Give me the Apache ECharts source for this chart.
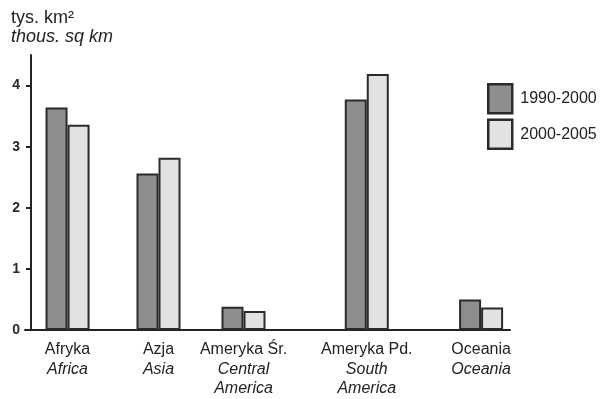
<!DOCTYPE html>
<html>
<head>
<meta charset="utf-8">
<script src="https://cdn.jsdelivr.net/npm/echarts@6/dist/echarts.min.js"></script>
<style>html,body{margin:0;padding:0;background:#fff;}#c{width:601px;height:399px;}</style>
</head>
<body>
<div id="c"></div>
<script>
// ---- data ----
const categoriesPL = ['Afryka', 'Azja', 'Ameryka Śr.', 'Ameryka Pd.', 'Oceania'];
const categoriesEN = ['Africa', 'Asia', 'Central\nAmerica', 'South\nAmerica', 'Oceania'];
const categoryX = [0.86, 3, 5, 7.9, 10.59];
const seriesNames = ['1990-2000', '2000-2005'];
const values1990 = [3.64, 2.56, 0.38, 3.77, 0.50];
const values2000 = [3.36, 2.82, 0.31, 4.19, 0.37];
const yTicks = [0, 1, 2, 3, 4];
const titleLines = ['tys. km²', 'thous. sq km'];

const FONT = '"Liberation Sans", Arial, sans-serif';
const chart = echarts.init(document.getElementById('c'), null, {renderer: 'canvas'});

function labelFor(v) {
  let idx = -1;
  categoryX.forEach((x, i) => { if (Math.abs(x - v) < 1e-6) idx = i; });
  if (idx < 0) return '';
  const en = categoriesEN[idx].split('\n').map(s => '{i|' + s + '}').join('\n');
  return '{n|' + categoriesPL[idx] + '}\n' + en;
}

const barStyle = (fill) => ({color: fill, borderColor: '#2b2b2b', borderWidth: 2});

chart.setOption({
  animation: false,
  backgroundColor: '#ffffff',
  textStyle: {fontFamily: FONT},
  title: {
    left: 6, top: 3,
    text: '{a|' + titleLines[0] + '}\n{b|' + titleLines[1] + '}',
    textStyle: {
      fontWeight: 'normal',
      rich: {
        a: {fontSize: 18, fontFamily: FONT, fontWeight: 'normal', color: '#222', lineHeight: 19.5},
        b: {fontSize: 18, fontFamily: FONT, fontWeight: 'normal', fontStyle: 'italic', color: '#222', lineHeight: 19.5}
      }
    }
  },
  legend: {
    orient: 'vertical',
    left: 487, top: 83,
    padding: 0,
    itemWidth: 24, itemHeight: 29, itemGap: 4,
    icon: 'rect',
    itemStyle: {borderColor: '#2b2b2b', borderWidth: 2.5},
    textStyle: {fontSize: 16, fontFamily: FONT, color: '#222', padding: [0, 0, 0, 3]},
    data: seriesNames
  },
  grid: {left: 25, right: 91, top: 55, bottom: 69, containLabel: false},
  xAxis: {
    type: 'value',
    min: -0.141, max: 11.27,
    splitLine: {show: false},
    axisTick: {show: false},
    axisLine: {show: true, onZero: false, lineStyle: {color: '#222', width: 2}},
    axisLabel: {
      customValues: categoryX,
      margin: 10,
      formatter: labelFor,
      rich: {
        n: {fontSize: 16, fontFamily: FONT, color: '#222', lineHeight: 19.5, align: 'center'},
        i: {fontSize: 16, fontFamily: FONT, fontStyle: 'italic', color: '#222', lineHeight: 19.5, align: 'center'}
      }
    }
  },
  yAxis: {
    type: 'value',
    min: 0, max: 4.5,
    offset: -6,
    splitLine: {show: false},
    axisLine: {show: true, onZero: false, lineStyle: {color: '#222', width: 2}},
    axisTick: {show: true, customValues: yTicks, length: 5, lineStyle: {color: '#222', width: 2}},
    axisLabel: {customValues: yTicks, margin: 11, fontSize: 14, fontWeight: 'bold', color: '#2a2a2a', fontFamily: FONT}
  },
  series: [
    {
      name: seriesNames[0], type: 'bar', barWidth: 22, barGap: '0%',
      itemStyle: barStyle('#8e8e8e'),
      data: categoryX.map((x, i) => [x, values1990[i]])
    },
    {
      name: seriesNames[1], type: 'bar', barWidth: 22, barGap: '0%',
      itemStyle: barStyle('#e2e2e2'),
      data: categoryX.map((x, i) => [x, values2000[i]])
    }
  ]
});
</script>
</body>
</html>
